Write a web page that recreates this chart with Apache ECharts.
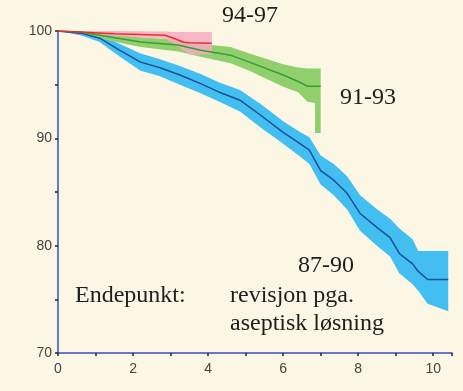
<!DOCTYPE html>
<html>
<head>
<meta charset="utf-8">
<script src="https://cdn.jsdelivr.net/npm/echarts@6/dist/echarts.min.js"></script>
<style>
  html, body { margin: 0; padding: 0; background: #fbf7e4; }
  #chart { width: 463px; height: 391px; }
</style>
</head>
<body>
<div id="chart"></div>
<script>
// years after operation
var blueX    = [0, 0.6, 1.1, 1.65, 2.2, 2.7, 3.25, 3.8, 4.3, 4.85, 5.4, 6.0, 6.45, 6.7, 7.0, 7.35, 7.7, 8.05, 8.5, 8.85, 9.1, 9.45, 9.6, 9.85, 10.4];
var blueLine = [100, 99.8, 99.35, 98.2, 97.1, 96.6, 95.9, 95.1, 94.3, 93.55, 92.15, 90.55, 89.5, 88.9, 87.0, 86.1, 84.9, 83.0, 81.7, 80.75, 79.25, 78.3, 77.6, 76.85, 76.85];
var blueHi   = [100, 99.95, 99.7, 98.8, 97.9, 97.4, 96.75, 96.0, 95.2, 94.5, 93.2, 91.6, 90.6, 90.1, 88.4, 87.6, 86.5, 84.7, 83.4, 82.5, 81.6, 80.6, 79.5, 79.5, 79.5];
var blueLo   = [100, 99.6, 99.0, 97.6, 96.3, 95.8, 95.0, 94.2, 93.4, 92.5, 91.0, 89.5, 88.3, 87.6, 85.7, 84.7, 83.4, 81.4, 80.0, 79.0, 77.4, 76.4, 75.8, 74.6, 73.9];

var greenX    = [0, 0.6, 1.4, 2.2, 3.2, 3.8, 4.6, 5.1, 6.0, 6.4, 6.65, 6.85, 6.85, 7.0];
var greenLine = [100, 99.9, 99.45, 98.97, 98.7, 98.2, 97.75, 97.1, 95.9, 95.3, 94.85, 94.85, 94.85, 94.85];
var greenHi   = [100, 100, 99.8, 99.4, 99.2, 98.8, 98.5, 97.9, 96.9, 96.6, 96.5, 96.5, 96.5, 96.5];
var greenLo   = [100, 99.8, 99.1, 98.5, 98.1, 97.6, 97.0, 96.3, 94.8, 94.3, 93.4, 93.3, 90.5, 90.5];

var redX    = [0, 1.5, 2.85, 3.1, 3.35, 3.5, 4.1];
var redLine = [100, 99.75, 99.6, 99.3, 98.95, 98.9, 98.85];
var redHi   = [100, 100, 99.95, 99.9, 99.9, 99.9, 99.9];
var redLo   = [100, 99.5, 99.3, 98.8, 98.2, 97.8, 97.8];

var chart = echarts.init(document.getElementById('chart'));

function pairs(xs, ys) {
  var out = [];
  for (var i = 0; i < xs.length; i++) out.push([xs[i], ys[i]]);
  return out;
}

function band(xs, lo, hi, color) {
  var data = [];
  for (var i = 0; i < xs.length; i++) data.push([xs[i], lo[i], hi[i]]);
  return {
    type: 'custom',
    silent: true,
    data: data,
    encode: { x: 0, y: [1, 2] },
    renderItem: function (params, api) {
      if (params.dataIndex !== 0) return;
      var pts = [];
      for (var i = 0; i < xs.length; i++) pts.push(api.coord([xs[i], hi[i]]));
      for (var j = xs.length - 1; j >= 0; j--) pts.push(api.coord([xs[j], lo[j]]));
      return { type: 'polygon', shape: { points: pts }, style: { fill: color } };
    }
  };
}

function curve(xs, ys, color) {
  return {
    type: 'line',
    data: pairs(xs, ys),
    showSymbol: false,
    silent: true,
    lineStyle: { color: color, width: 1.5 }
  };
}

var serif = { fontFamily: 'Liberation Serif', fontSize: 24, fill: '#1e1e1e' };
function label(text, x, y) {
  return { type: 'text', left: x, top: y, style: Object.assign({ text: text }, serif) };
}

var option = {
  backgroundColor: '#fbf7e4',
  animation: false,
  grid: { left: 58, right: 11, top: 31, bottom: 38 },
  xAxis: {
    type: 'value',
    min: 0,
    max: 10.5,
    interval: 1,
    splitLine: { show: false },
    axisLine: { lineStyle: { color: '#3a4fc2', width: 1.5 } },
    axisTick: { length: 3, lineStyle: { color: '#222', width: 1.5 } },
    axisLabel: {
      color: '#444', fontFamily: 'Liberation Sans', fontSize: 14, margin: 9,
      formatter: function (v) { return v % 2 === 0 ? String(v) : ''; }
    }
  },
  yAxis: {
    type: 'value',
    min: 70,
    max: 100,
    interval: 5,
    splitLine: { show: false },
    axisLine: { show: true, lineStyle: { color: '#3a4fc2', width: 1.5 } },
    axisTick: { show: true, length: 3, lineStyle: { color: '#222', width: 1.5 } },
    axisLabel: {
      color: '#444', fontFamily: 'Liberation Sans', fontSize: 14, margin: 6,
      formatter: function (v) { return v % 10 === 0 ? String(v) : ''; }
    }
  },
  series: [
    band(blueX, blueLo, blueHi, '#43bef0'),
    band(greenX, greenLo, greenHi, '#8fd06c'),
    band(redX, redLo, redHi, 'rgba(245,170,195,0.85)'),
    curve(blueX, blueLine, '#1b4f9c'),
    curve(greenX, greenLine, '#3c9a38'),
    curve(redX, redLine, '#e8302a')
  ],
  graphic: [
    label('94-97', 222, 4),
    label('91-93', 340, 86),
    label('87-90', 298, 254),
    label('Endepunkt:', 75, 284),
    label('revisjon pga.', 230, 284),
    label('aseptisk løsning', 230, 312)
  ]
};

chart.setOption(option);
</script>
</body>
</html>
